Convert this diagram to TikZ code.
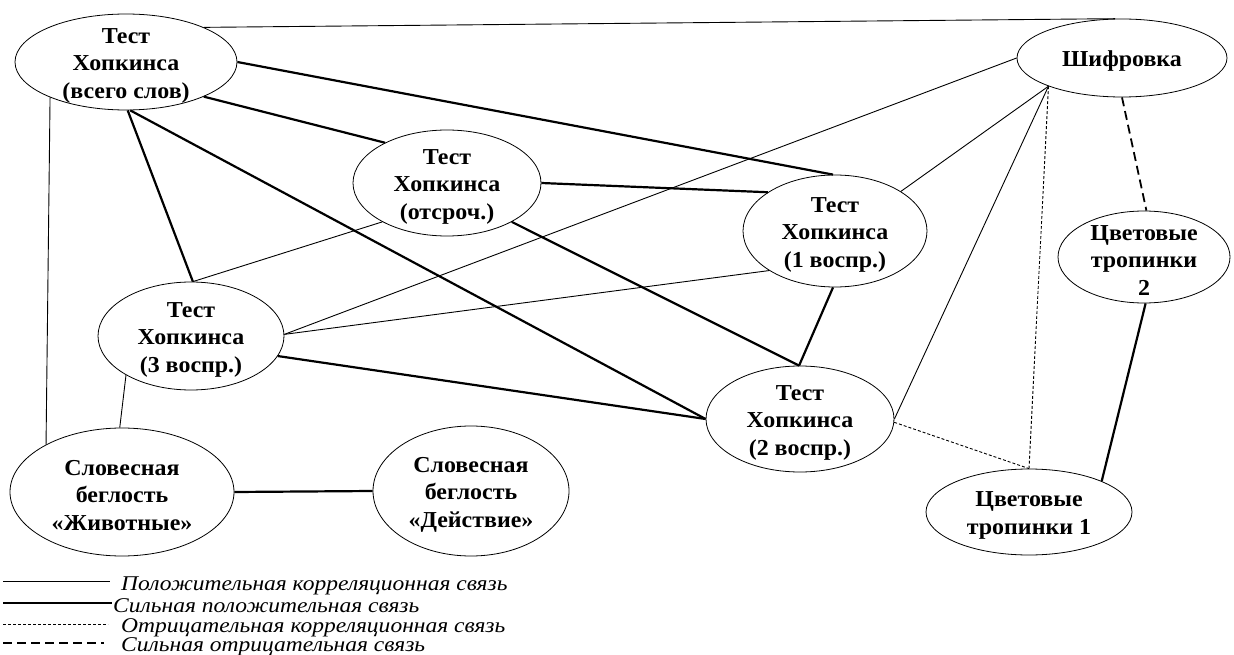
\documentclass[tikz,border=0pt]{standalone}
\usepackage{fontspec}
\setmainfont[FakeStretch=1.05]{Liberation Serif}
\newfontfamily\legfont[FakeStretch=1.12]{Liberation Serif}
\usetikzlibrary{shapes.geometric}
\tikzset{
  ell/.style={draw, ellipse, line width=0.8pt, inner sep=0pt},
  lbl/.style={align=center, font=\bfseries\fontsize{22.8}{27.5}\selectfont, inner sep=0pt, yshift=-3.5pt},
  posline/.style={line width=0.9pt},
  strongline/.style={line width=2.2pt},
  negline/.style={line width=0.9pt, dash pattern=on 3pt off 2pt},
  strongnegline/.style={line width=1.8pt, dash pattern=on 9pt off 5pt},
  leg/.style={anchor=base west, font=\legfont\itshape\fontsize{21}{21}\selectfont, inner sep=0pt}
}
\begin{document}
\begin{tikzpicture}[x=1pt, y=-1pt]
\useasboundingbox (0,0) rectangle (1234,655);
% nodes
\node[ell, minimum width=222pt, minimum height=96pt] (A) at (126,62) {};
\node[lbl] (At) at (A) {Тест\\Хопкинса\\(всего слов)};
\node[ell, minimum width=188pt, minimum height=106pt] (B) at (447,183) {};
\node[lbl] (Bt) at (B) {Тест\\Хопкинса\\(отсроч.)};
\node[ell, minimum width=184pt, minimum height=112pt] (C) at (835,231) {};
\node[lbl] (Ct) at (C) {Тест\\Хопкинса\\(1 воспр.)};
\node[ell, minimum width=186pt, minimum height=108pt] (D) at (191,336) {};
\node[lbl] (Dt) at (D) {Тест\\Хопкинса\\(3 воспр.)};
\node[ell, minimum width=188pt, minimum height=106pt] (E) at (800,419) {};
\node[lbl] (Et) at (E) {Тест\\Хопкинса\\(2 воспр.)};
\node[ell, minimum width=210pt, minimum height=78pt] (F) at (1122,58) {};
\node[lbl] (Ft) at (F) {Шифровка};
\node[ell, minimum width=172pt, minimum height=92pt] (G) at (1144,257) {};
\node[lbl] (Gt) at (G) {Цветовые\\тропинки\\2};
\node[ell, minimum width=206pt, minimum height=86pt] (H) at (1029,512) {};
\node[lbl] (Ht) at (H) {Цветовые\\тропинки 1};
\node[ell, minimum width=224pt, minimum height=128pt] (I) at (122,492) {};
\node[lbl] (It) at (I) {Словесная\\беглость\\«Животные»};
\node[ell, minimum width=196pt, minimum height=130pt] (J) at (471,491) {};
\node[lbl] (Jt) at (J) {Словесная\\беглость\\«Действие»};
% edges
\draw[posline] (A.24) -- (F.100);
\draw[strongline] (A.0) -- (C.92);
\draw[strongline] (A.-24) -- (B.147);
\draw[strongline] (A.-88) -- (D.88);
\draw[strongline] (A.-85) -- (E.180);
\draw[posline] (A.-155) -- (I.148);
\draw[strongline] (B.0) -- (C.150);
\draw[strongline] (B.-31) -- (E.91);
\draw[posline] (B.211) -- (D.88);
\draw[strongline] (C.-92) -- (E.91);
\draw[posline] (D.1) -- (C.211);
\draw[posline] (D.1) -- (F.180);
\draw[strongline] (D.-13) -- (E.180);
\draw[posline] (D.-149) -- (I.92);
\draw[posline] (C.31) -- (F.201);
\draw[posline] (E.0) -- (F.201);
\draw[negline] (F.201) -- (H.90);
\draw[negline] (E.-2) -- (H.90);
\draw[strongnegline] (F.-90) -- (G.87);
\draw[strongline] (G.-88) -- (H.23);
\draw[strongline] (I.0) -- (J.180);
% legend
\coordinate (L1a) at (3,581); \coordinate (L1b) at (110,581);
\coordinate (L2a) at (3,603); \coordinate (L2b) at (112,603);
\coordinate (L3a) at (3,624); \coordinate (L3b) at (108,624);
\coordinate (L4a) at (3,643); \coordinate (L4b) at (104,643);
\draw[posline] (L1a) -- (L1b);
\draw[strongline] (L2a) -- (L2b);
\draw[negline] (L3a) -- (L3b);
\draw[strongnegline] (L4a) -- (L4b);
\node[leg] (T1) at (121,590) {Положительная корреляционная связь};
\node[leg] (T2) at (113,612) {Сильная положительная связь};
\node[leg] (T3) at (121,632) {Отрицательная корреляционная связь};
\node[leg] (T4) at (121,651) {Сильная отрицательная связь};
\end{tikzpicture}
\end{document}
